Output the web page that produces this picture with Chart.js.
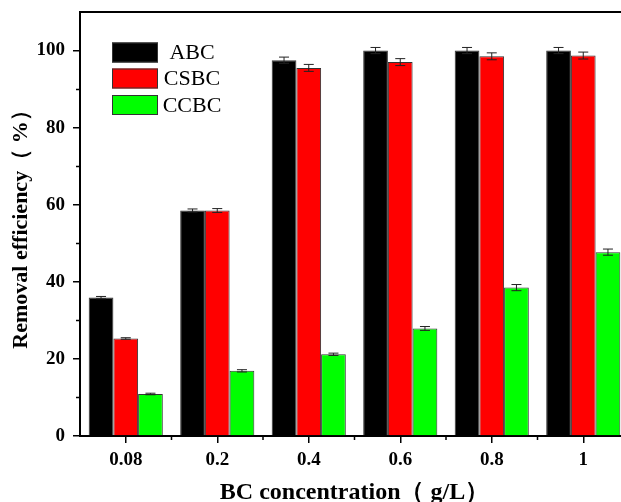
<!DOCTYPE html>
<html>
<head>
<meta charset="utf-8">
<script src="https://cdn.jsdelivr.net/npm/chart.js@4.4.1/dist/chart.umd.min.js"></script>
<style>
  html, body { margin: 0; padding: 0; background: #fff; overflow: hidden; }
</style>
</head>
<body>
<canvas id="chart" width="640" height="507"></canvas>
<script>
const categories = ['0.08', '0.2', '0.4', '0.6', '0.8', '1'];
const abc = [35.9, 58.5, 97.5, 100.0, 100.0, 100.0];
const csbc = [25.3, 58.5, 95.5, 97.0, 98.5, 98.7];
const ccbc = [10.9, 16.9, 21.2, 27.9, 38.5, 47.7];
const abcErr = [0.3, 0.4, 0.8, 0.8, 0.8, 0.8];
const csbcErr = [0.2, 0.5, 0.9, 0.9, 0.9, 0.9];
const ccbcErr = [0.2, 0.3, 0.3, 0.5, 0.8, 0.8];
const yTicks = [0, 20, 40, 60, 80, 100];
const yMinorTicks = [10, 30, 50, 70, 90];

const serif = "'Times New Roman', 'Liberation Serif', serif";

// error bars drawn on top of each bar
const errorBars = {
  id: 'errorBars',
  afterDatasetsDraw(chart) {
    const ctx = chart.ctx;
    const y = chart.scales.y;
    ctx.save();
    ctx.strokeStyle = '#222';
    ctx.lineWidth = 1;
    chart.data.datasets.forEach((ds, i) => {
      const meta = chart.getDatasetMeta(i);
      meta.data.forEach((bar, j) => {
        const v = ds.data[j], e = ds.errors[j];
        const top = y.getPixelForValue(v + e);
        const bot = y.getPixelForValue(v - e);
        ctx.beginPath();
        ctx.moveTo(bar.x, top); ctx.lineTo(bar.x, bot);
        ctx.moveTo(bar.x - 5, top); ctx.lineTo(bar.x + 5, top);
        ctx.moveTo(bar.x - 5, bot); ctx.lineTo(bar.x + 5, bot);
        ctx.stroke();
      });
    });
    ctx.restore();
  }
};

// frame top line, minor ticks and the boxed legend
const decorations = {
  id: 'decorations',
  afterDraw(chart) {
    const ctx = chart.ctx;
    const a = chart.chartArea;
    const y = chart.scales.y;
    const x = chart.scales.x;
    ctx.save();
    ctx.strokeStyle = '#000';
    ctx.lineWidth = 2;
    ctx.beginPath();
    ctx.moveTo(a.left - 1, a.top); ctx.lineTo(a.right + 1, a.top);
    ctx.stroke();

    ctx.lineWidth = 1.5;
    ctx.beginPath();
    yMinorTicks.forEach(v => {
      const py = Math.round(y.getPixelForValue(v)) + 0.5;
      ctx.moveTo(a.left - 4, py); ctx.lineTo(a.left, py);
    });
    for (let i = 1; i < categories.length; i++) {
      const px = (x.getPixelForValue(i - 1) + x.getPixelForValue(i)) / 2;
      ctx.moveTo(px, a.bottom); ctx.lineTo(px, a.bottom + 4);
    }
    ctx.stroke();

    // legend
    ctx.font = '22px ' + serif;
    ctx.textAlign = 'center';
    ctx.textBaseline = 'middle';
    const rows = [52.5, 78.5, 105];
    chart.data.datasets.forEach((ds, i) => {
      const cy = rows[i];
      ctx.fillStyle = ds.backgroundColor;
      ctx.fillRect(112, cy - 10, 46, 20);
      ctx.strokeStyle = '#333';
      ctx.lineWidth = 1;
      ctx.strokeRect(112.5, cy - 9.5, 45, 19);
      ctx.fillStyle = '#000';
      ctx.fillText(ds.label, 192, cy + 1);
    });
    ctx.restore();
  }
};

const makeSet = (label, data, errors, color) => ({
  label, data, errors,
  backgroundColor: color,
  borderColor: '#333',
  borderWidth: 1,
  borderSkipped: 'bottom'
});

new Chart(document.getElementById('chart'), {
  type: 'bar',
  data: {
    labels: categories,
    datasets: [
      makeSet('ABC', abc, abcErr, '#000000'),
      makeSet('CSBC', csbc, csbcErr, '#ff0000'),
      makeSet('CCBC', ccbc, ccbcErr, '#00ff00')
    ]
  },
  options: {
    responsive: false,
    animation: false,
    categoryPercentage: 0.81,
    barPercentage: 1.0,
    layout: { padding: { top: 12, right: 11, left: 0, bottom: 0 } },
    plugins: {
      legend: { display: false },
      tooltip: { enabled: false }
    },
    scales: {
      x: {
        offset: true,
        grid: { offset: false, drawOnChartArea: false, tickLength: 7, color: '#000', lineWidth: 1.5 },
        border: { display: true, color: '#000', width: 2 },
        ticks: { color: '#000', padding: 6, font: { family: serif, size: 19, weight: 'bold' } },
        title: {
          display: true,
          text: 'BC concentration（ g/L）',
          color: '#000',
          padding: { top: 0, bottom: 0 },
          font: { family: serif, size: 24, weight: 'bold' }
        },
        afterFit(scale) { scale.height = 71; scale.paddingLeft = 0; scale.paddingRight = 0; }
      },
      y: {
        min: 0,
        max: 110,
        afterBuildTicks(scale) { scale.ticks = yTicks.map(v => ({ value: v })); },
        grid: { drawOnChartArea: false, tickLength: 7, color: '#000', lineWidth: 1.5 },
        border: { display: true, color: '#000', width: 2 },
        ticks: { color: '#000', padding: 8, font: { family: serif, size: 19, weight: 'bold' } },
        title: {
          display: true,
          text: 'Removal efficiency（ %）',
          color: '#000',
          padding: { top: 8, bottom: 0 },
          font: { family: serif, size: 22, weight: 'bold' }
        },
        afterFit(scale) { scale.width = 80; scale.paddingTop = 0; scale.paddingBottom = 0; }
      }
    }
  },
  plugins: [errorBars, decorations]
});
</script>
</body>
</html>
